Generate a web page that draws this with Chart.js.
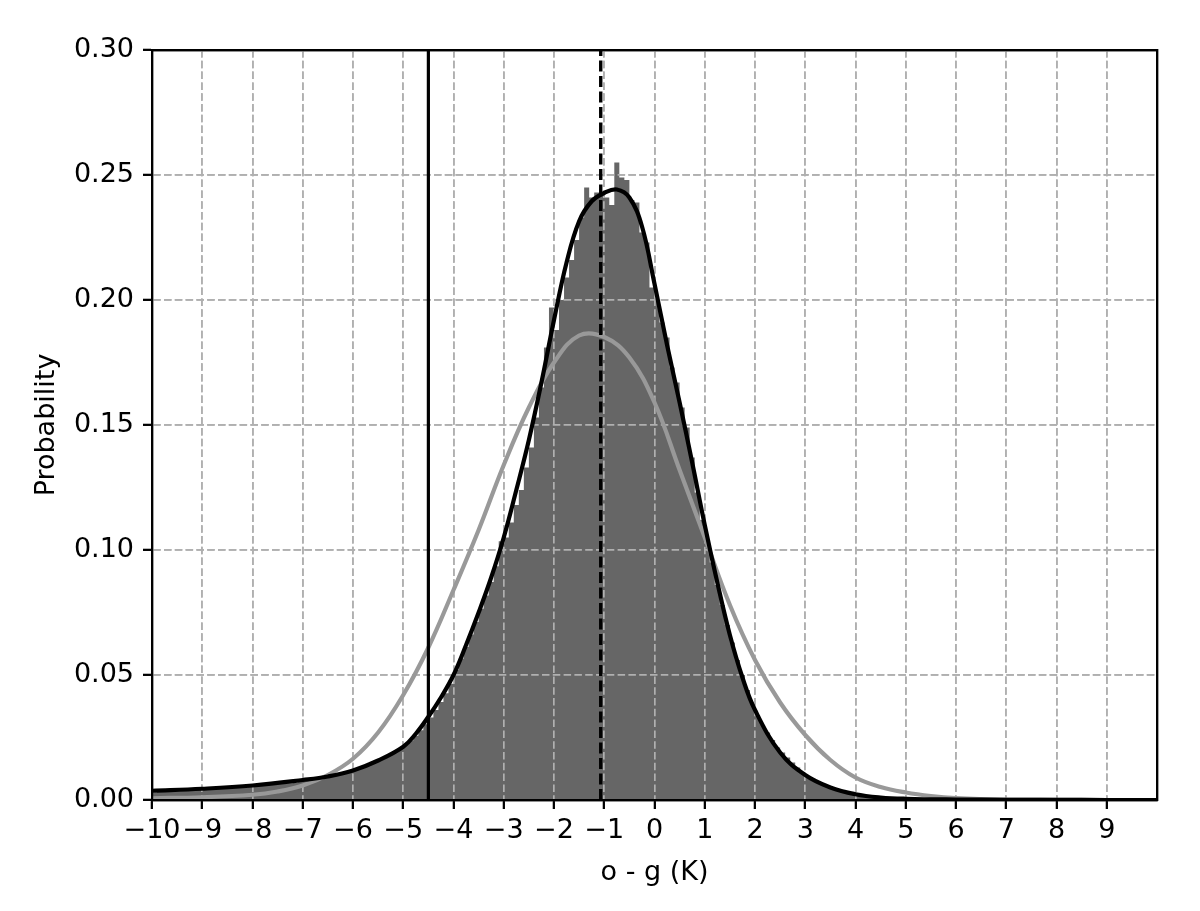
<!DOCTYPE html>
<html>
<head>
<meta charset="utf-8">
<script src="https://cdn.jsdelivr.net/npm/chart.js@4"></script>
<style>
  html, body { margin: 0; padding: 0; background: #fff; }
  #wrap { width: 1200px; height: 911px; }
</style>
</head>
<body>
<div id="wrap"><canvas id="ogChart"></canvas></div>
<script>
// histogram of o - g, 0.1 K bins from -10 to 10 (one row = 1 K)
const binStart = -10;
const binWidth = 0.1;
const histVals = [
  0.0030, 0.0032, 0.0034, 0.0035, 0.0036, 0.0038, 0.0039, 0.0040, 0.0041, 0.0042,
  0.0042, 0.0044, 0.0043, 0.0046, 0.0047, 0.0046, 0.0049, 0.0051, 0.0050, 0.0053,
  0.0055, 0.0056, 0.0058, 0.0060, 0.0061, 0.0064, 0.0066, 0.0067, 0.0070, 0.0072,
  0.0078, 0.0081, 0.0084, 0.0088, 0.0091, 0.0095, 0.0099, 0.0104, 0.0109, 0.0115,
  0.0122, 0.0129, 0.0136, 0.0143, 0.0151, 0.0160, 0.0170, 0.0181, 0.0192, 0.0204,
  0.0220, 0.0238, 0.0257, 0.0279, 0.0303, 0.0330, 0.0360, 0.0392, 0.0427, 0.0465,
  0.0520, 0.0565, 0.0612, 0.0662, 0.0712, 0.0765, 0.0818, 0.0872, 0.0935, 0.1035,
  0.105, 0.111, 0.118, 0.124, 0.133, 0.141, 0.153, 0.165, 0.181, 0.197,
  0.188, 0.200, 0.209, 0.216, 0.224, 0.233, 0.245, 0.241, 0.243, 0.243,
  0.241, 0.238, 0.255, 0.249, 0.248, 0.240, 0.239, 0.227, 0.223, 0.205,
  0.200, 0.191, 0.185, 0.173, 0.167, 0.157, 0.149, 0.137, 0.123, 0.112,
  0.104, 0.095, 0.086, 0.078, 0.070, 0.063, 0.056, 0.050, 0.044, 0.039,
  0.034, 0.030, 0.027, 0.024, 0.021, 0.019, 0.017, 0.015, 0.013, 0.011,
  0.0095, 0.0085, 0.0075, 0.0065, 0.0057, 0.0050, 0.0044, 0.0038, 0.0033, 0.0029,
  0.0025, 0.0022, 0.0019, 0.0016, 0.0014, 0.0012, 0.0010, 0.0009, 0.0008, 0.0007,
  0.0006, 0.0005, 0.0005, 0.0004, 0.0004, 0.0003, 0.0003, 0.0003, 0.0002, 0.0002,
  0.0002, 0.0002, 0.0002, 0.0002, 0.0003, 0.0003, 0.0003, 0.0002, 0.0002, 0.0002,
  0.0001, 0.0001, 0.0001, 0.0001, 0.0001, 0.0001, 0.0001, 0.0001, 0.0001, 0.0001,
  0.0001, 0.0001, 0.0001, 0.0001, 0.0001, 0, 0, 0, 0, 0,
  0, 0, 0, 0, 0, 0, 0, 0, 0, 0
];

// black curve (kernel density)
const kdeX = [-10, -9, -8, -7, -6.5, -6, -5.5, -5, -4.75, -4.5, -4.25, -4, -3.75, -3.5, -3.25, -3, -2.75,
  -2.5, -2.25, -2, -1.75, -1.5, -1.25, -1, -0.75, -0.5, -0.25, 0, 0.25, 0.5, 0.75, 1, 1.25, 1.5, 1.75, 2,
  2.5, 3, 3.5, 4, 4.5, 5, 6, 7, 8, 9, 10];
const kdeY = [0.0037, 0.0045, 0.0058, 0.0080, 0.0094, 0.0118, 0.0158, 0.0213, 0.0265, 0.0333, 0.041, 0.050, 0.062, 0.075, 0.089, 0.105, 0.124,
  0.144, 0.167, 0.192, 0.215, 0.2315, 0.2395, 0.2428, 0.2442, 0.2410, 0.2295, 0.2065, 0.182, 0.159, 0.135, 0.110, 0.087, 0.066, 0.049, 0.036,
  0.019, 0.010, 0.005, 0.0023, 0.0010, 0.0005, 0.0002, 0.0001, 0.0001, 0, 0];

// grey curve (normal fit)
const gaussX = [-10, -9, -8, -7.5, -7, -6.5, -6, -5.5, -5, -4.5, -4, -3.5, -3, -2.5, -2, -1.5, -1,
  -0.5, 0, 0.5, 1, 1.5, 2, 2.5, 3, 3.5, 4, 4.5, 5, 5.5, 6, 7, 8, 9, 10];
const gaussY = [0.0007, 0.0011, 0.0021, 0.0034, 0.0058, 0.0100, 0.0165, 0.027, 0.042, 0.061, 0.084, 0.108, 0.134, 0.157, 0.175, 0.1858, 0.1852,
  0.177, 0.159, 0.132, 0.105, 0.078, 0.056, 0.039, 0.026, 0.016, 0.0090, 0.0052, 0.0030, 0.0016, 0.0008, 0.0002, 0.0001, 0, 0];

// vertical markers
const solidLineX = -4.5;
const dashedLineX = -1.07;

const xTicks = { min: -10, max: 10, step: 1 };
const yTicks = { min: 0, max: 0.30, step: 0.05 };

const FONT = 'DejaVu Sans';
Chart.defaults.font.family = FONT;
Chart.defaults.color = '#000';

const histPoints = histVals.map((v, i) => ({ x: +(binStart + i * binWidth).toFixed(1), y: v }));
histPoints.push({ x: xTicks.max, y: histVals[histVals.length - 1] });

const toPts = (xs, ys) => xs.map((x, i) => ({ x: x, y: ys[i] }));

// matplotlib draws the grid above the bars but below the lines
const gridOverBars = {
  id: 'gridOverBars',
  afterDatasetDraw(chart, args) {
    if (args.index !== 0) return;
    chart.scales.x.drawGrid(chart.chartArea);
    chart.scales.y.drawGrid(chart.chartArea);
  },
  afterDatasetsDraw(chart) {
    ['x', 'y', 'x2', 'y2'].forEach(id => chart.scales[id].drawBorder());
  }
};

const edgeHidden = (lo, hi) => ctx => {
  const v = ctx.tick ? ctx.tick.value : null;
  if (v !== null && (Math.abs(v - lo) < 1e-9 || Math.abs(v - hi) < 1e-9)) return 'rgba(0,0,0,0)';
  return '#b0b0b0';
};

const ctx = document.getElementById('ogChart').getContext('2d');
const ogChart = new Chart(ctx, {
  type: 'line',
  data: {
    datasets: [
      {
        data: histPoints,
        stepped: true,
        fill: 'origin',
        backgroundColor: '#666666',
        borderColor: 'rgba(0,0,0,0)',
        borderWidth: 1,
        pointRadius: 0,
        order: 5
      },
      {
        data: toPts(gaussX, gaussY),
        borderColor: '#999999',
        borderWidth: 4.2,
        pointRadius: 0,
        tension: 0.4,
        fill: false,
        order: 3
      },
      {
        data: toPts(kdeX, kdeY),
        borderColor: '#000',
        borderWidth: 4.2,
        pointRadius: 0,
        tension: 0.4,
        fill: false,
        order: 2
      },
      {
        data: [{ x: solidLineX, y: yTicks.min }, { x: solidLineX, y: yTicks.max }],
        borderColor: '#000',
        borderWidth: 3.2,
        pointRadius: 0,
        fill: false,
        order: 1
      },
      {
        data: [{ x: dashedLineX, y: yTicks.min }, { x: dashedLineX, y: yTicks.max }],
        borderColor: '#000',
        borderWidth: 3.4,
        borderDash: [11, 4.5],
        pointRadius: 0,
        fill: false,
        order: 1
      }
    ]
  },
  plugins: [gridOverBars],
  options: {
    responsive: true,
    maintainAspectRatio: false,
    animation: false,
    events: [],
    layout: { padding: { left: 0, top: 50, right: 43, bottom: 0 } },
    plugins: {
      legend: { display: false },
      tooltip: { enabled: false }
    },
    scales: {
      x: {
        type: 'linear',
        position: 'bottom',
        min: xTicks.min,
        max: xTicks.max,
        afterBuildTicks: axis => { axis.ticks = axis.ticks.filter(t => t.value < xTicks.max); },
        afterFit: s => { s.height = 111; },
        ticks: {
          stepSize: xTicks.step,
          autoSkip: false,
          maxRotation: 0,
          padding: 6,
          color: '#000',
          font: { size: 27 },
          callback: v => String(v).replace('-', '\u2212')
        },
        grid: {
          color: edgeHidden(xTicks.min, xTicks.max),
          lineWidth: 1.7,
          tickColor: '#000',
          tickLength: 9,
          tickWidth: 2
        },
        border: { display: true, color: '#000', width: 2.2, dash: [7.5, 3.3] },
        title: {
          display: true,
          text: 'o - g (K)',
          color: '#000',
          font: { size: 27 },
          padding: { top: 0, bottom: 22 }
        }
      },
      y: {
        type: 'linear',
        position: 'left',
        min: yTicks.min,
        max: yTicks.max,
        afterFit: s => { s.width = 152; },
        ticks: {
          stepSize: yTicks.step,
          padding: 9,
          color: '#000',
          font: { size: 27 },
          callback: v => v.toFixed(2)
        },
        grid: {
          color: edgeHidden(yTicks.min, yTicks.max),
          lineWidth: 1.7,
          tickColor: '#000',
          tickLength: 9,
          tickWidth: 2
        },
        border: { display: true, color: '#000', width: 2.2, dash: [7.5, 3.3] },
        title: {
          display: true,
          text: 'Probability',
          color: '#000',
          font: { size: 27 },
          padding: { top: 31, bottom: 0 }
        }
      },
      x2: {
        type: 'linear',
        position: 'top',
        min: xTicks.min,
        max: xTicks.max,
        afterFit: s => { s.height = 0; },
        ticks: { display: false },
        grid: { display: false },
        border: { display: true, color: '#000', width: 2.2 }
      },
      y2: {
        type: 'linear',
        position: 'right',
        min: yTicks.min,
        max: yTicks.max,
        afterFit: s => { s.width = 0; },
        ticks: { display: false },
        grid: { display: false },
        border: { display: true, color: '#000', width: 2.2 }
      }
    }
  }
});
</script>
</body>
</html>
